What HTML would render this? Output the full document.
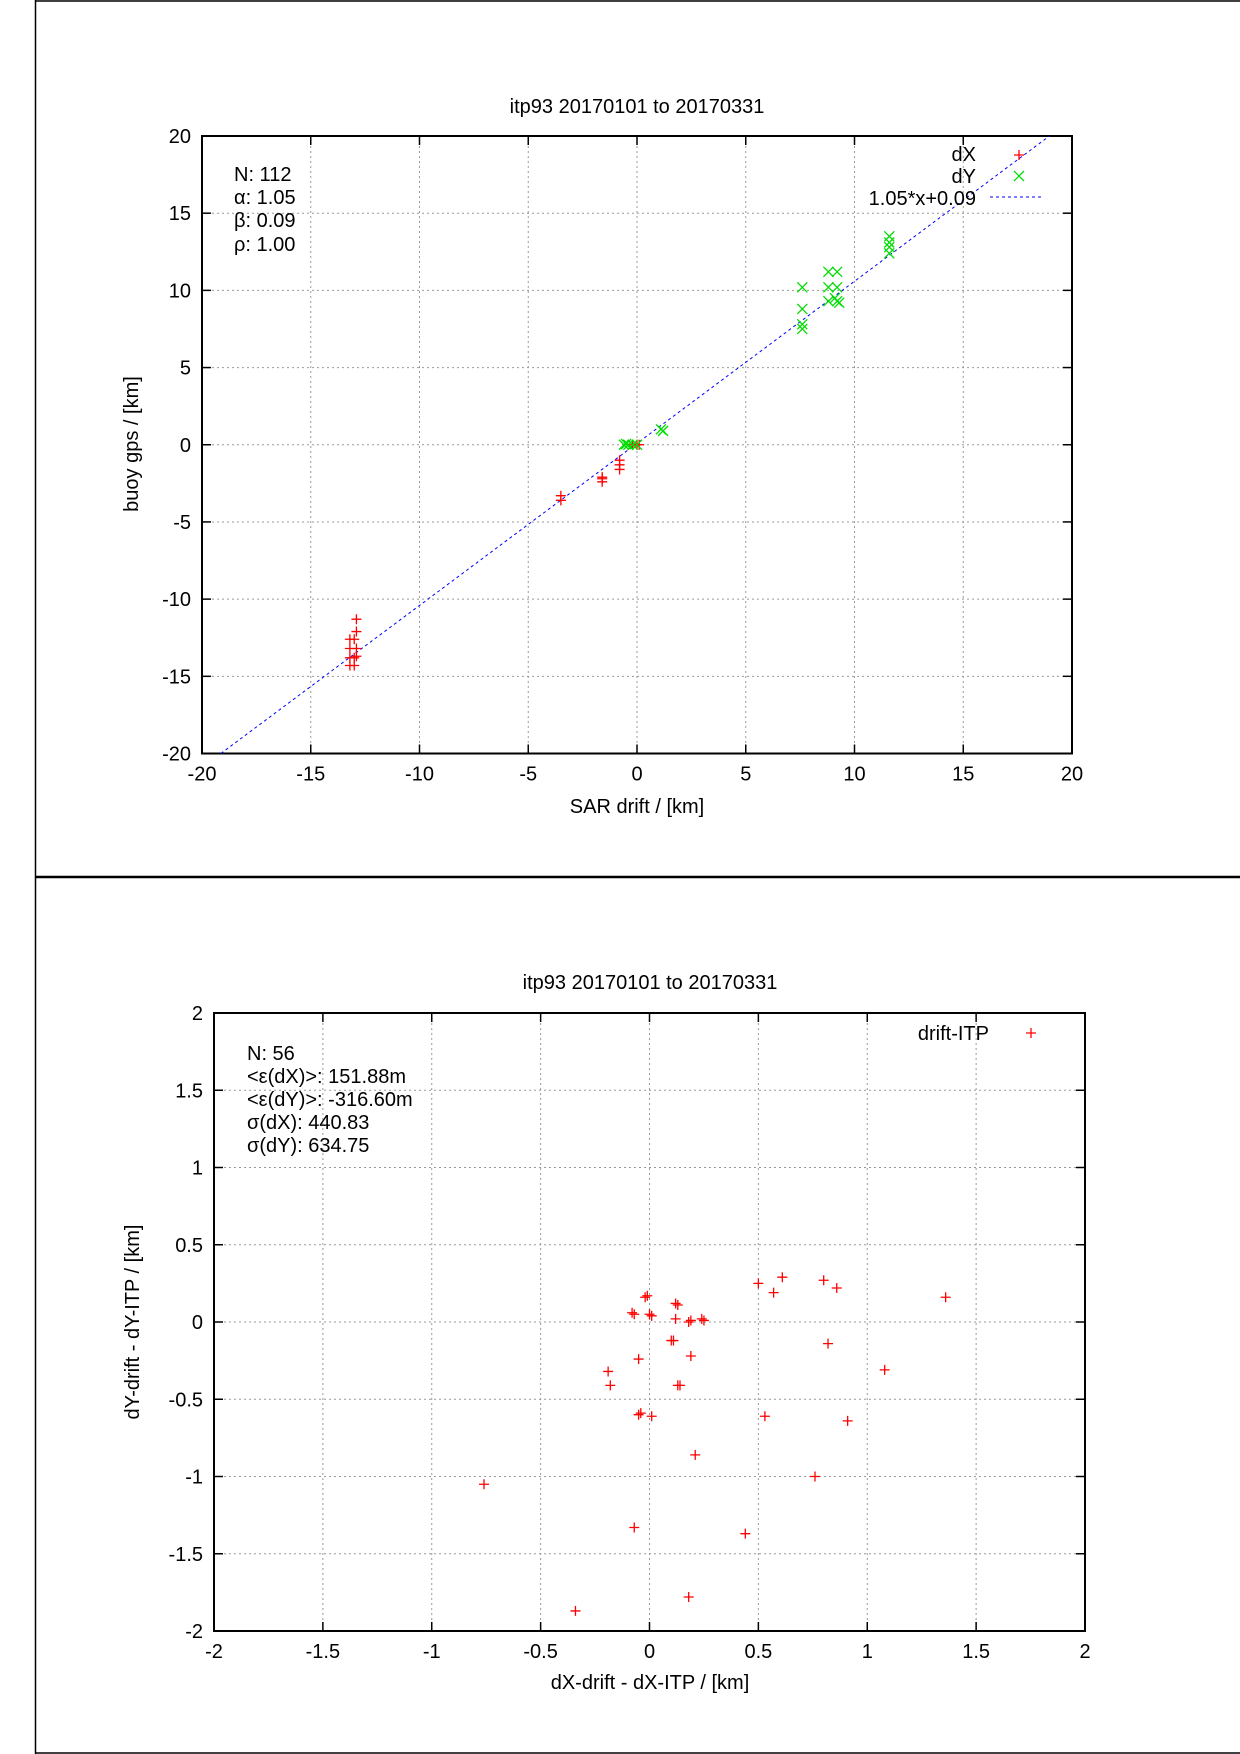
<!DOCTYPE html>
<html><head><meta charset="utf-8"><style>
html,body{margin:0;padding:0;background:#fff}
svg{display:block}
text{font-family:"Liberation Sans",sans-serif;font-size:20px;fill:#000}
</style></head><body>
<svg id="s" width="1240" height="1754" viewBox="0 0 1240 1754" xmlns="http://www.w3.org/2000/svg">
<rect width="1240" height="1754" fill="#fff"/>
<line x1="35.5" y1="0" x2="35.5" y2="1754" stroke="#000" stroke-width="1.5"/>
<line x1="35" y1="1" x2="1240" y2="1" stroke="#000" stroke-width="1.5"/>
<line x1="35" y1="877" x2="1240" y2="877" stroke="#000" stroke-width="2.5"/>
<line x1="35" y1="1753" x2="1240" y2="1753" stroke="#000" stroke-width="1.5"/>
<g id="g1"></g><g id="g2"></g>
<text x="637" y="113" text-anchor="middle">itp93 20170101 to 20170331</text>
<text x="234" y="181">N: 112</text>
<text x="234" y="204">α: 1.05</text>
<text x="234" y="227">β: 0.09</text>
<text x="234" y="251">ρ: 1.00</text>
<text x="976" y="161" text-anchor="end">dX</text>
<text x="976" y="183" text-anchor="end">dY</text>
<text x="976" y="205" text-anchor="end">1.05*x+0.09</text>
<text x="637" y="813" text-anchor="middle">SAR drift / [km]</text>
<text transform="translate(138,444) rotate(-90)" text-anchor="middle">buoy gps / [km]</text>
<text x="650" y="989" text-anchor="middle">itp93 20170101 to 20170331</text>
<text x="247" y="1060">N: 56</text>
<text x="247" y="1083">&lt;ε(dX)&gt;:  151.88m</text>
<text x="247" y="1106">&lt;ε(dY)&gt;: -316.60m</text>
<text x="247" y="1129">σ(dX):  440.83</text>
<text x="247" y="1152">σ(dY):  634.75</text>
<text x="989" y="1040" text-anchor="end">drift-ITP</text>
<text x="650" y="1689" text-anchor="middle">dX-drift - dX-ITP / [km]</text>
<text transform="translate(139,1322) rotate(-90)" text-anchor="middle">dY-drift - dY-ITP / [km]</text>
</svg>
<script>
var NS="http://www.w3.org/2000/svg";
function el(p,t,a,txt){var e=document.createElementNS(NS,t);for(var k in a)e.setAttribute(k,a[k]);if(txt!==undefined)e.textContent=txt;p.appendChild(e);return e;}
function plot(g,L,R,T,B,min,max,step,lbl){
 var fx=function(x){return L+(x-min)*(R-L)/(max-min)}, fy=function(y){return B-(y-min)*(B-T)/(max-min)};
 for(var v=min;v<=max+1e-9;v+=step){
  var x=fx(v),y=fy(v);
  if(v>min&&v<max){
   el(g,'line',{x1:x,y1:T,x2:x,y2:B,stroke:'#999','stroke-width':1,'stroke-dasharray':'2,3'});
   el(g,'line',{x1:L,y1:y,x2:R,y2:y,stroke:'#999','stroke-width':1,'stroke-dasharray':'2,3'});
  }
  el(g,'line',{x1:x,y1:B,x2:x,y2:B-9,stroke:'#000','stroke-width':1.5});
  el(g,'line',{x1:x,y1:T,x2:x,y2:T+9,stroke:'#000','stroke-width':1.5});
  el(g,'line',{x1:L,y1:y,x2:L+9,y2:y,stroke:'#000','stroke-width':1.5});
  el(g,'line',{x1:R,y1:y,x2:R-9,y2:y,stroke:'#000','stroke-width':1.5});
  var s=lbl(v);
  el(g,'text',{x:x,y:B+27,'text-anchor':'middle'},s);
  el(g,'text',{x:L-11,y:y+7,'text-anchor':'end'},s);
 }
 el(g,'rect',{x:L,y:T,width:R-L,height:B-T,fill:'none',stroke:'#000','stroke-width':2});
 return [fx,fy];
}
function plus(g,x,y,c,w){el(g,'path',{d:'M'+(x-5)+' '+y+'h10M'+x+' '+(y-5)+'v10',stroke:c,'stroke-width':w||1.3,fill:'none'});}
function cross(g,x,y,c){el(g,'path',{d:'M'+(x-5)+' '+(y-5)+'l10 10M'+(x+5)+' '+(y-5)+'l-10 10',stroke:c,'stroke-width':1.3,fill:'none'});}
var g1=document.getElementById('g1');
var f=plot(g1,202,1072,136,753.5,-20,20,5,function(v){return ''+v;});
var fx=f[0],fy=f[1];
el(g1,'line',{x1:fx(-19.133),y1:fy(-20),x2:fx(18.962),y2:fy(20),stroke:'#00f','stroke-width':1,'stroke-dasharray':'3,3'});
el(g1,'line',{x1:990,y1:197,x2:1044,y2:197,stroke:'#00f','stroke-width':1,'stroke-dasharray':'3,3'});
plus(g1,1019,155,'#f00');cross(g1,1019,176,'#0d0');
var red=[[-13.2,-14.3],[-13.2,-13.8],[-13.2,-13.2],[-13.2,-12.6],[-13.0,-14.3],[-13.0,-13.8],[-12.9,-13.2],[-13.0,-12.6],[-12.9,-12.1],[-12.9,-11.3],[-12.9,-13.7],[-3.5,-3.3],[-3.5,-3.6],[-1.6,-2.2],[-1.6,-2.1],[-1.6,-2.4],[-0.8,-1.0],[-0.8,-1.3],[-0.8,-1.6],[0,0],[0.1,0],[-0.2,0]];
red.forEach(function(p){plus(g1,fx(p[0]),fy(p[1]),'#f00');});
var grn=[[-0.6,0],[-0.4,0],[-0.2,0],[0,0],[-0.5,0.05],[1.1,1],[1.2,0.9],[7.6,10.2],[7.6,8.8],[7.6,7.8],[7.6,7.5],[8.8,11.2],[9.2,11.2],[8.8,10.2],[9.2,10.2],[8.8,9.3],[9.2,9.3],[9.3,9.2],[9.1,9.5],[11.6,13.5],[11.6,13.1],[11.6,12.8],[11.6,12.4]];
grn.forEach(function(p){cross(g1,fx(p[0]),fy(p[1]),'#0d0');});
var g2=document.getElementById('g2');
f=plot(g2,214,1085,1013,1631,-2,2,0.5,function(v){return ''+(Math.round(v*10)/10);});
fx=f[0];fy=f[1];
plus(g2,1031,1033,'#f00');
var pts=[[-0.76,-1.05],[-0.34,-1.87],[-0.19,-0.32],[-0.18,-0.41],[-0.08,0.06],[-0.07,0.05],[-0.07,-1.33],[-0.05,-0.24],[-0.05,-0.6],[-0.04,-0.59],[-0.02,0.16],[-0.01,0.17],[0,0.05],[0.01,0.04],[0.01,-0.61],[0.1,-0.12],[0.11,-0.12],[0.12,0.02],[0.12,0.12],[0.13,0.11],[0.13,-0.41],[0.14,-0.41],[0.18,0],[0.19,0.01],[0.18,-1.78],[0.19,-0.22],[0.21,-0.86],[0.24,0.02],[0.25,0.01],[0.44,-1.37],[0.5,0.25],[0.53,-0.61],[0.57,0.19],[0.61,0.29],[0.76,-1.0],[0.8,0.27],[0.82,-0.14],[0.86,0.22],[0.91,-0.64],[1.08,-0.31],[1.36,0.16]];
pts.forEach(function(p){plus(g2,fx(p[0]),fy(p[1]),'#f00');});
</script>
</body></html>
